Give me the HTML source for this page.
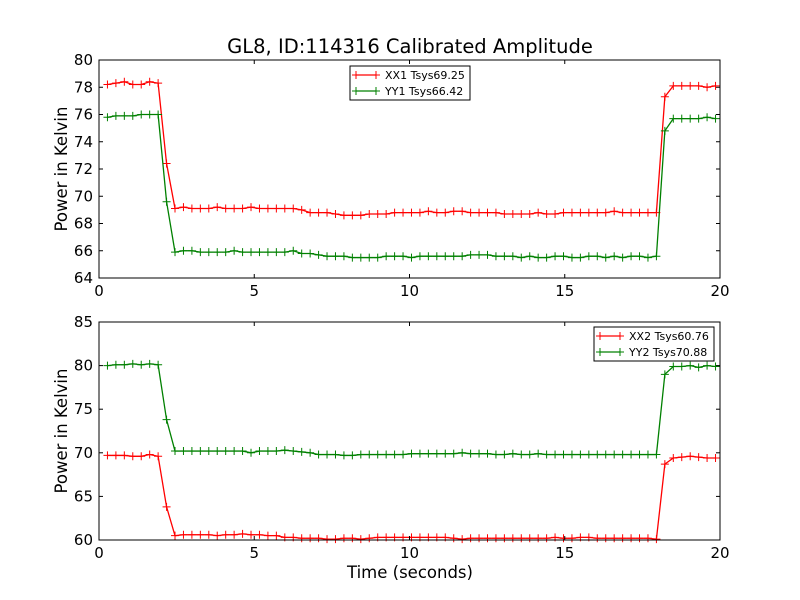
<!DOCTYPE html>
<html><head><meta charset="utf-8"><style>
body{margin:0;background:#fff;}
svg{display:block;font-family:"DejaVu Sans","Liberation Sans",sans-serif;}
</style></head><body>
<svg id="chart" width="800" height="600" viewBox="0 0 800 600">
<rect width="800" height="600" fill="#fff"/>
<text x="410" y="53" font-size="19.5" text-anchor="middle">GL8, ID:114316 Calibrated Amplitude</text>
<g id="top"></g>
<g id="bot"></g>
<text x="410" y="578" font-size="16.5" text-anchor="middle">Time (seconds)</text>
</svg>
<script>
const dt = 0.272;
const xx1Pre = [78.2,78.3,78.4,78.2,78.2,78.4,78.3,72.4];
const xx1Mid = [69.1,69.2,69.1,69.1,69.1,69.2,69.1,69.1,69.1,69.2,69.1,69.1,69.1,69.1,69.1,69.0,68.8,68.8,68.8,68.7,68.6,68.6,68.6,68.7,68.7,68.7,68.8,68.8,68.8,68.8,68.9,68.8,68.8,68.9,68.9,68.8,68.8,68.8,68.8,68.7,68.7,68.7,68.7,68.8,68.7,68.7,68.8,68.8,68.8,68.8,68.8,68.8,68.9,68.8,68.8,68.8,68.8,68.8];
const xx1Post = [77.3,78.1,78.1,78.1,78.1,78.0,78.1];
const yy1Pre = [75.8,75.9,75.9,75.9,76.0,76.0,76.0,69.6];
const yy1Mid = [65.9,66.0,66.0,65.9,65.9,65.9,65.9,66.0,65.9,65.9,65.9,65.9,65.9,65.9,66.0,65.8,65.8,65.7,65.6,65.6,65.6,65.5,65.5,65.5,65.5,65.6,65.6,65.6,65.5,65.6,65.6,65.6,65.6,65.6,65.6,65.7,65.7,65.7,65.6,65.6,65.6,65.5,65.6,65.5,65.5,65.6,65.6,65.5,65.5,65.6,65.6,65.5,65.6,65.5,65.6,65.6,65.5,65.6];
const yy1Post = [74.8,75.7,75.7,75.7,75.7,75.8,75.7];
const xx2Pre = [69.7,69.7,69.7,69.6,69.6,69.8,69.6,63.8];
const xx2Mid = [60.5,60.6,60.6,60.6,60.6,60.5,60.6,60.6,60.7,60.6,60.6,60.5,60.5,60.3,60.3,60.2,60.2,60.2,60.1,60.1,60.2,60.2,60.1,60.2,60.3,60.3,60.3,60.3,60.3,60.3,60.3,60.3,60.3,60.2,60.1,60.2,60.2,60.2,60.2,60.2,60.2,60.2,60.2,60.2,60.2,60.3,60.2,60.2,60.3,60.3,60.2,60.2,60.2,60.2,60.2,60.2,60.2,60.1];
const xx2Post = [68.7,69.4,69.5,69.6,69.5,69.4,69.4];
const yy2Pre = [80.0,80.1,80.1,80.2,80.1,80.2,80.1,73.8];
const yy2Mid = [70.2,70.2,70.2,70.2,70.2,70.2,70.2,70.2,70.2,70.0,70.2,70.2,70.2,70.3,70.2,70.1,70.0,69.8,69.8,69.8,69.7,69.7,69.8,69.8,69.8,69.8,69.8,69.8,69.9,69.9,69.9,69.9,69.9,69.9,70.0,69.9,69.9,69.9,69.8,69.8,69.9,69.8,69.8,69.9,69.8,69.8,69.8,69.8,69.8,69.8,69.8,69.8,69.8,69.8,69.8,69.8,69.8,69.8];
const yy2Post = [79.0,79.9,79.9,80.0,79.8,80.0,79.9];
const xTicks = [0,5,10,15,20];
const topYTicks = [64,66,68,70,72,74,76,78,80];
const botYTicks = [60,65,70,75,80,85];

const NS = "http://www.w3.org/2000/svg";
function mk(tag, attrs, parent){const e=document.createElementNS(NS,tag);for(const k in attrs)e.setAttribute(k,attrs[k]);parent.appendChild(e);return e;}

function panel(g, name, top, bottom, ymin, ymax, yTicks, series, legend){
  const L=99,R=720;
  const sx=v=>L+(v-0)/(20-0)*(R-L);
  const sy=v=>bottom-(v-ymin)/(ymax-ymin)*(bottom-top);
  series.forEach(s=>{
    const vals=s.vals;
    const pts=vals.map((v,i)=>[sx((i+1)*dt),sy(v)]);
    const line=mk("polyline",{points:pts.map(p=>p.join(",")).join(" "),fill:"none",stroke:s.color,"stroke-width":1.3},g);
    
    
    let d="";pts.forEach(p=>{d+=`M${p[0]-4},${p[1]}h8M${p[0]},${p[1]-4}v8`;});
    const m=mk("path",{d:d,stroke:s.color,"stroke-width":1},g);
    
    
  });
  const fr=mk("rect",{x:L,y:top,width:R-L,height:bottom-top,fill:"none",stroke:"#000","stroke-width":1},g);
  
  
  xTicks.forEach(t=>{
    const x=sx(t);
    mk("line",{x1:x,x2:x,y1:bottom,y2:bottom-4,stroke:"#000"},g);
    mk("line",{x1:x,x2:x,y1:top,y2:top+4,stroke:"#000"},g);
    const tx=mk("text",{x:x,y:bottom+18,"font-size":15,"text-anchor":"middle"},g);
    tx.textContent=t;
    
    
  });
  yTicks.forEach(t=>{
    const y=sy(t);
    mk("line",{x1:L,x2:L+4,y1:y,y2:y,stroke:"#000"},g);
    mk("line",{x1:R,x2:R-4,y1:y,y2:y,stroke:"#000"},g);
    const tx=mk("text",{x:L-6,y:y+5,"font-size":15,"text-anchor":"end"},g);
    tx.textContent=t;
    
    
  });
  const yl=mk("text",{x:0,y:0,"font-size":16.5,"text-anchor":"middle",transform:`translate(67,${(top+bottom)/2}) rotate(-90)`},g);
  yl.textContent="Power in Kelvin";
  
  
  const lg=mk("g",{},g);
  
  
  mk("rect",{x:legend.x,y:legend.y,width:120,height:34,fill:"#fff",stroke:"#000"},lg);
  series.forEach((s,i)=>{
    const y=legend.y+9+i*16;
    mk("line",{x1:legend.x+6,x2:legend.x+26,y1:y,y2:y,stroke:s.color,"stroke-width":1.3},lg);
    mk("path",{d:`M${legend.x+2},${y}h8M${legend.x+6},${y-4}v8M${legend.x+22},${y}h8M${legend.x+26},${y-4}v8`,stroke:s.color},lg);
    const t=mk("text",{x:legend.x+35,y:y+4,"font-size":11},lg);
    t.textContent=s.label;
    
    
  });
}
panel(document.getElementById("top"),"top",60,278,64,80,topYTicks,[
  {name:"xx1",label:"XX1 Tsys69.25",color:"#ff0000",vals:xx1Pre.concat(xx1Mid,xx1Post)},
  {name:"yy1",label:"YY1 Tsys66.42",color:"#008000",vals:yy1Pre.concat(yy1Mid,yy1Post)}
],{x:350,y:66});
panel(document.getElementById("bot"),"bottom",322,540,60,85,botYTicks,[
  {name:"xx2",label:"XX2 Tsys60.76",color:"#ff0000",vals:xx2Pre.concat(xx2Mid,xx2Post)},
  {name:"yy2",label:"YY2 Tsys70.88",color:"#008000",vals:yy2Pre.concat(yy2Mid,yy2Post)}
],{x:594,y:327});
</script>
</body></html>
